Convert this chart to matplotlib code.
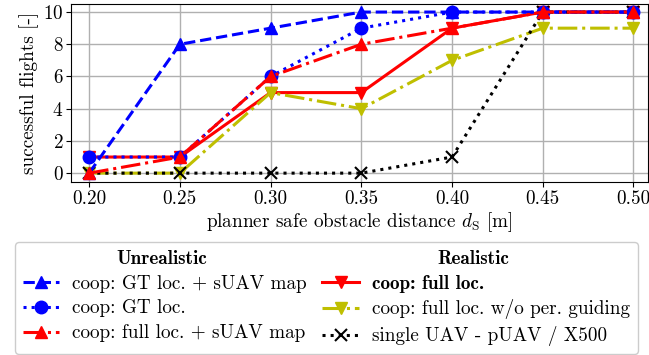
import matplotlib
matplotlib.use("Agg")
import matplotlib.pyplot as plt

plt.rcParams['font.family'] = 'serif'
plt.rcParams['font.serif'] = ['cmr10']
plt.rcParams['mathtext.fontset'] = 'cm'
plt.rcParams['axes.formatter.use_mathtext'] = True
plt.rcParams['axes.unicode_minus'] = False

distances = [0.20, 0.25, 0.30, 0.35, 0.40, 0.45, 0.50]
gt_suav = [0, 8, 9, 10, 10, 10, 10]
gt_loc = [1, 1, 6, 9, 10, 10, 10]
full_suav = [0, 1, 6, 8, 9, 10, 10]
full_loc = [1, 1, 5, 5, 9, 10, 10]
full_noguide = [0, 0, 5, 4, 7, 9, 9]
single_uav = [0, 0, 0, 0, 1, 10, 10]

fs = 13.8

fig = plt.figure(figsize=(6.49, 3.55), dpi=100)
ax = fig.add_axes([71 / 649, 1 - 182 / 355, 577 / 649, 178 / 355])

lw = 2.2
ms = 9
l1, = ax.plot(distances, gt_suav, 'b--^', lw=lw, ms=ms, label='coop: GT loc. + sUAV map')
l2, = ax.plot(distances, gt_loc, 'b:o', lw=lw, ms=ms, label='coop: GT loc.')
l3, = ax.plot(distances, full_suav, 'r-.^', lw=lw, ms=ms, label='coop: full loc. + sUAV map')
l4, = ax.plot(distances, full_loc, 'r-v', lw=lw, ms=ms, label='coop: full loc.')
l5, = ax.plot(distances, full_noguide, 'y-.v', lw=lw, ms=ms, label='coop: full loc. w/o per. guiding')
l6, = ax.plot(distances, single_uav, 'k:x', lw=lw, ms=ms, mew=1.5, label='single UAV - pUAV / X500')
for l in [l1, l2, l3]:
    l.set_zorder(3)

ax.set_xlim(0.19, 0.508)
ax.set_ylim(-0.55, 10.5)
ax.set_xticks(distances)
ax.set_xticklabels(['%.2f' % d for d in distances])
ax.set_yticks([0, 2, 4, 6, 8, 10])
ax.grid(True, color='#b0b0b0', lw=1)
ax.tick_params(labelsize=fs, pad=2)
ax.set_xlabel(r'planner safe obstacle distance $d_\mathrm{S}$ [m]', fontsize=fs, labelpad=2)
ax.set_ylabel('successful flights [-]', fontsize=fs, labelpad=3)

leg = fig.legend(handles=[l1, l2, l3, l4, l5, l6], ncol=2, loc='lower center',
                 bbox_to_anchor=(0.503, 0.0), fontsize=fs, title=' ',
                 title_fontsize=fs, handlelength=1.9, handletextpad=0.7,
                 columnspacing=0.8, borderaxespad=0.05, labelspacing=0.36,
                 fancybox=True, framealpha=1, edgecolor='#cccccc')
leg.get_texts()[3].set_fontfamily('cmb10')

fig.canvas.draw()
# column headers
for idx, title in [((0, 1, 2), 'Unrealistic'), ((3, 4, 5), 'Realistic')]:
    hs = [leg.legend_handles[i] for i in idx]
    ts = [leg.get_texts()[i] for i in idx]
    x0 = min(h.get_window_extent().x0 for h in hs)
    x1 = max(t.get_window_extent().x1 for t in ts)
    y = ts[0].get_window_extent().y1 + 16
    xc, yc = fig.transFigure.inverted().transform(((x0 + x1) / 2, y))
    fig.text(xc, yc, title, ha='center', va='center', fontsize=fs,
             fontfamily='cmb10', zorder=10)

fig.savefig('out.png', dpi=100)
